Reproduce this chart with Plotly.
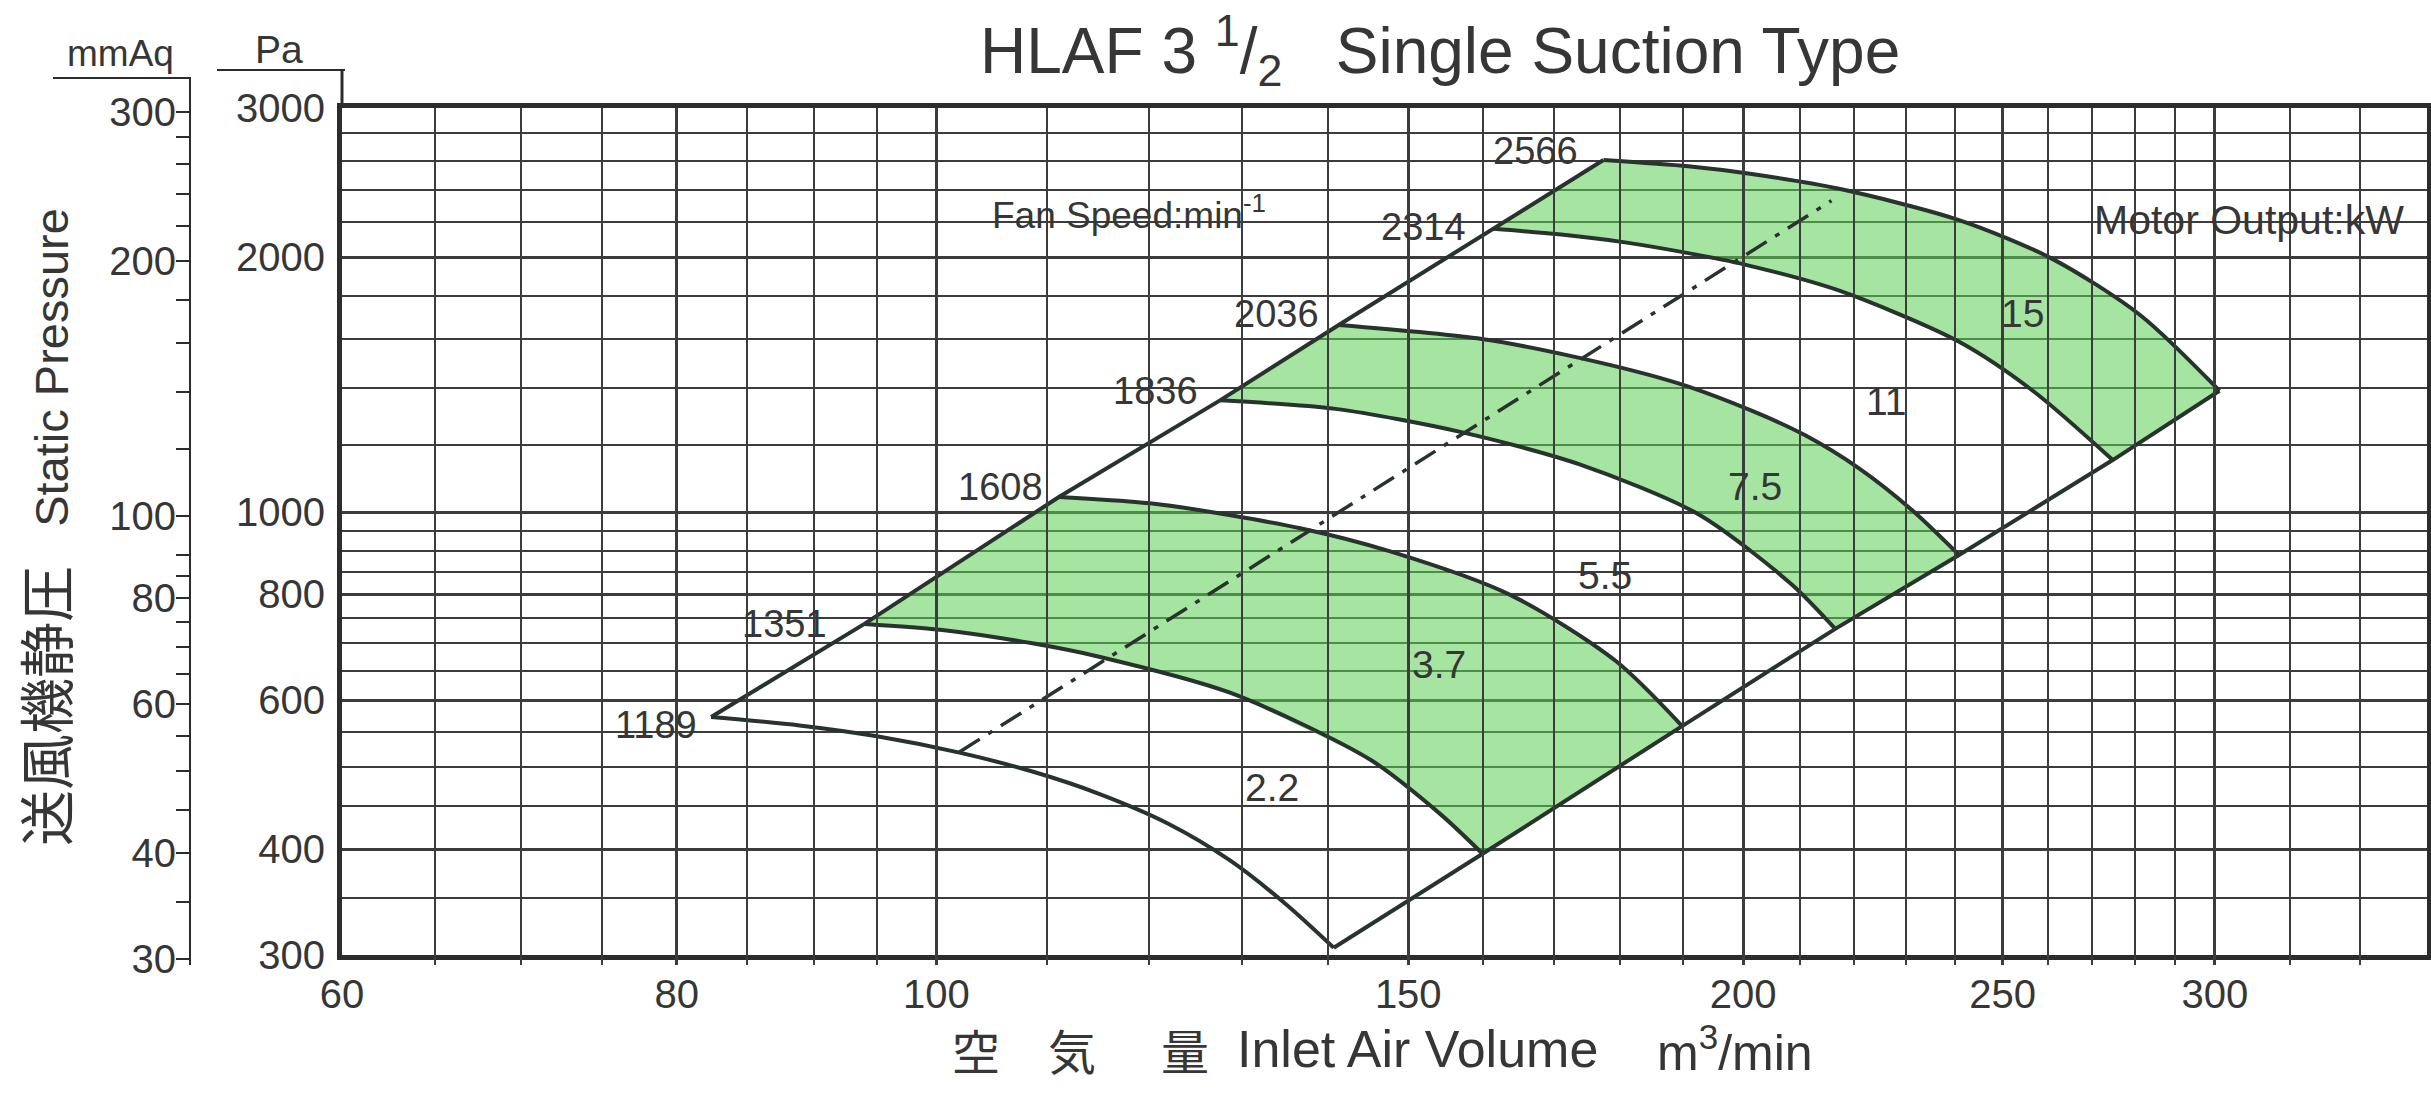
import numpy as np
import plotly.graph_objects as go

# ---------------- data ----------------
speeds = [1189, 1351, 1608, 1836, 2036, 2314, 2566]          # fan speed, min^-1

q_1189 = [82.4, 88.9, 94.9, 102.0, 108.6, 115.0, 122.0, 128.7, 135.1, 140.7]
p_1189 = [573, 560, 544, 520, 494, 465, 429, 388, 344, 306]

q_1351 = [94.0, 100.5, 108.6, 115.0, 128.7, 145.2, 154.2, 159.9]
p_1351 = [738, 726, 700, 675, 612, 510, 440, 395]

q_1608 = [111.1, 121.2, 136.7, 147.8, 163.8, 179.2, 189.8]
p_1608 = [1042, 1021, 957, 898, 798, 668, 559]

q_1836 = [127.6, 140.9, 157.0, 173.9, 192.4, 208.4, 216.5]
p_1836 = [1355, 1324, 1243, 1138, 995, 823, 728]

q_2036 = [141.3, 159.8, 173.6, 189.2, 202.0, 210.9, 220.9, 231.3, 240.8]
p_2036 = [1663, 1601, 1522, 1419, 1313, 1233, 1127, 1005, 890]

q_2314 = [161.4, 170.7, 180.7, 190.8, 200.3, 217.0, 240.8, 256.7, 274.8]
p_2314 = [2160, 2128, 2082, 2022, 1960, 1828, 1589, 1389, 1152]

q_2566 = [177.4, 190.8, 200.9, 217.0, 240.8, 260.8, 281.4, 301.2]
p_2566 = [2604, 2560, 2510, 2410, 2212, 1992, 1708, 1391]

curve_q = [q_1189, q_1351, q_1608, q_1836, q_2036, q_2314, q_2566]
curve_p = [p_1189, p_1351, p_1608, p_1836, p_2036, p_2314, p_2566]

# green (motor output) bands: pairs of (lower curve, upper curve) indices
green_pairs = [(1, 2), (3, 4), (5, 6)]

# dashed line
eff_q = [102.0, 215.8]
eff_p = [521, 2332]

# motor output labels (kW)
kw_labels = ["2.2", "3.7", "5.5", "7.5", "11", "15"]
kw_q = [133.4, 154.0, 177.7, 202.0, 226.3, 254.3]
kw_p = [473, 660, 842, 1071, 1350, 1718]

# axes ticks
x_major = [60, 80, 100, 150, 200, 250, 300]
x_minor = [65, 70, 75, 85, 90, 95, 110, 120, 130, 140, 160, 170, 180, 190,
           210, 220, 230, 240, 260, 270, 280, 290, 320, 340]
y_major = [300, 400, 600, 800, 1000, 2000, 3000]
y_minor = [350, 450, 500, 550, 650, 700, 750, 850, 900, 950, 1200, 1400, 1600, 1800,
           2200, 2400, 2600, 2800]
mm_major = [30, 40, 60, 80, 100, 200, 300]
mm_minor = [35, 45, 50, 55, 65, 70, 75, 85, 90, 120, 140, 160, 180,
            220, 240, 260, 280]
PA_PER_MMAQ = 9.9

# ---------------- geometry / styles ----------------
W, H = 2431, 1102
ML, MR, MT, MB = 40, 4, 108, 137
PW, PH = W - ML - MR, H - MT - MB


def fx(px):
    return (px - ML) / PW


def fy(py):
    return (H - MB - py) / PH


x_dom = [fx(342), 1.0]
y_dom = [fy(955), 1.0]
pa_px_per_decade = 955 - 108
mm_top = np.log10(3000 / PA_PER_MMAQ)
mm_bot = mm_top - PH / pa_px_per_decade

FONT = "Liberation Sans, Arial, Noto Sans CJK JP, sans-serif"
CJK = "Noto Sans CJK JP, Liberation Sans, sans-serif"
TXT = "#363636"
LINE = "#29332d"
GRID = "#3c3c3c"
BORDER = "#2c2c2c"
GREEN = "rgba(92, 206, 84, 0.55)"

# label offsets for the speed labels (px: xshift, yshift)
speed_label_shift = [(-12, -8), (-35, 0), (-14, 10), (-20, 9), (-18, 11), (-25, 2), (-23, 9)]

fig = go.Figure()

for lo, hi in green_pairs:
    xs = curve_q[hi] + curve_q[lo][::-1]
    ys = curve_p[hi] + curve_p[lo][::-1]
    fig.add_trace(go.Scatter(x=xs, y=ys, mode="lines", fill="toself",
                             fillcolor=GREEN, line=dict(width=0),
                             hoverinfo="skip", showlegend=False))

for q, p in zip(curve_q, curve_p):
    fig.add_trace(go.Scatter(x=q, y=p, mode="lines",
                             line=dict(color=LINE, width=4, shape="spline", smoothing=0.8),
                             hoverinfo="skip", showlegend=False))

# boundary lines through curve starts and ends
fig.add_trace(go.Scatter(x=[q[0] for q in curve_q], y=[p[0] for p in curve_p],
                         mode="lines", line=dict(color=LINE, width=4),
                         hoverinfo="skip", showlegend=False))
fig.add_trace(go.Scatter(x=[q[-1] for q in curve_q], y=[p[-1] for p in curve_p],
                         mode="lines", line=dict(color=LINE, width=4),
                         hoverinfo="skip", showlegend=False))

fig.add_trace(go.Scatter(x=eff_q, y=eff_p, mode="lines",
                         line=dict(color=LINE, width=3.5, dash="24px,10px,5px,10px"),
                         hoverinfo="skip", showlegend=False))

# invisible trace to activate the mmAq axis
fig.add_trace(go.Scatter(x=[100], y=[100], yaxis="y2", mode="markers",
                         marker=dict(opacity=0), hoverinfo="skip", showlegend=False))

annotations = []
for s, q, p, (dx, dy) in zip(speeds, curve_q, curve_p, speed_label_shift):
    annotations.append(dict(x=np.log10(q[0]), y=np.log10(p[0]), xref="x", yref="y",
                            text=str(s), showarrow=False, xanchor="right", yanchor="middle",
                            xshift=dx, yshift=dy, font=dict(size=38, color=TXT)))
for t, q, p in zip(kw_labels, kw_q, kw_p):
    annotations.append(dict(x=np.log10(q), y=np.log10(p), xref="x", yref="y", text=t,
                            showarrow=False, xanchor="center", yanchor="middle",
                            font=dict(size=39, color=TXT)))

annotations += [
    dict(x=fx(1440), y=fy(50), xref="paper", yref="paper", showarrow=False,
         text="HLAF 3\u00a0<sup>1</sup>/<sub>2</sub>\u00a0\u00a0\u00a0Single Suction Type",
         xanchor="center", yanchor="middle", font=dict(size=64, color=TXT)),
    dict(x=fx(279), y=fy(50), xref="paper", yref="paper", showarrow=False, text="Pa",
         xanchor="center", yanchor="middle", font=dict(size=39, color=TXT)),
    dict(x=fx(120), y=fy(54), xref="paper", yref="paper", showarrow=False, text="mmAq",
         xanchor="center", yanchor="middle", font=dict(size=37, color=TXT)),
    dict(x=fx(48), y=fy(527), xref="paper", yref="paper", showarrow=False,
         text="<span style='font-size:56px'>送風機静圧</span>\u00a0\u00a0\u00a0Static Pressure",
         textangle=-90, xanchor="center", yanchor="middle",
         font=dict(size=47, color=TXT, family=FONT)),
    dict(x=fx(990), y=fy(213), xref="paper", yref="paper", showarrow=False,
         text="Fan Speed:min<sup>-1</sup>", xanchor="left", yanchor="middle",
         font=dict(size=37, color=TXT)),
    dict(x=fx(2406), y=fy(220), xref="paper", yref="paper", showarrow=False,
         text="Motor Output:kW", xanchor="right", yanchor="middle",
         font=dict(size=41, color=TXT)),
    dict(x=fx(1235), y=fy(1049), xref="paper", yref="paper", showarrow=False,
         text="Inlet Air Volume", xanchor="left", yanchor="middle",
         font=dict(size=52, color=TXT)),
    dict(x=fx(1655), y=fy(1049), xref="paper", yref="paper", showarrow=False,
         text="m<sup>3</sup>/min", xanchor="left", yanchor="middle",
         font=dict(size=50, color=TXT)),
]
for ch, cx in zip(["空", "気", "量"], [976, 1072, 1185]):
    annotations.append(dict(x=fx(cx), y=fy(1049), xref="paper", yref="paper", showarrow=False,
                            text=ch, xanchor="center", yanchor="middle",
                            font=dict(size=48, color=TXT, family=CJK)))

shapes = [
    dict(type="line", xref="paper", yref="paper", x0=fx(217), x1=fx(345), y0=fy(70), y1=fy(70),
         line=dict(color=BORDER, width=2)),
    dict(type="line", xref="paper", yref="paper", x0=fx(342), x1=fx(342), y0=fy(70), y1=fy(108),
         line=dict(color=BORDER, width=3)),
    dict(type="line", xref="paper", yref="paper", x0=fx(53), x1=fx(191), y0=fy(78), y1=fy(78),
         line=dict(color=BORDER, width=2)),
    dict(type="line", xref="paper", yref="paper", x0=fx(190), x1=fx(190), y0=fy(78), y1=fy(108),
         line=dict(color=BORDER, width=2)),
]

fig.update_layout(
    width=W, height=H,
    margin=dict(l=ML, r=MR, t=MT, b=MB, pad=0),
    paper_bgcolor="white", plot_bgcolor="rgba(0,0,0,0)",
    showlegend=False,
    font=dict(family=FONT, color=TXT),
    xaxis=dict(type="log", range=[np.log10(60), np.log10(360)], domain=x_dom, anchor="y",
               tickmode="array", tickvals=x_major, ticktext=[str(v) for v in x_major],
               tickfont=dict(size=40, color=TXT), ticks="", ticklabelstandoff=0,
               showgrid=True, gridcolor=GRID, gridwidth=3,
               minor=dict(tickvals=x_minor, showgrid=True, gridcolor=GRID, gridwidth=2, ticks=""),
               showline=True, linecolor=BORDER, linewidth=5, mirror=True, zeroline=False,
               automargin=False),
    yaxis=dict(type="log", range=[np.log10(300), np.log10(3000)], domain=y_dom, anchor="x",
               tickmode="array", tickvals=y_major, ticktext=[str(v) for v in y_major],
               tickfont=dict(size=40, color=TXT), ticks="", ticklabelstandoff=4,
               showgrid=True, gridcolor=GRID, gridwidth=3,
               minor=dict(tickvals=y_minor, showgrid=True, gridcolor=GRID, gridwidth=2.2, ticks=""),
               showline=True, linecolor=BORDER, linewidth=5, mirror=True, zeroline=False,
               automargin=False),
    yaxis2=dict(type="log", range=[mm_bot, mm_top], domain=[0, 1], anchor="free",
                position=fx(190), side="left",
                tickmode="array", tickvals=mm_major, ticktext=[str(v) for v in mm_major],
                tickfont=dict(size=40, color=TXT), ticks="outside", ticklen=13, tickwidth=2,
                tickcolor=BORDER, ticklabelstandoff=-8,
                minor=dict(tickvals=mm_minor, ticks="outside", ticklen=13, tickwidth=2,
                           tickcolor=BORDER, showgrid=False),
                showgrid=False, showline=True, linecolor=BORDER, linewidth=2, zeroline=False,
                automargin=False),
    annotations=annotations,
    shapes=shapes,
)

fig.write_html("out.html", config={"displayModeBar": False},
               post_script="document.body.style.margin='0px';document.body.style.overflow='hidden';")
